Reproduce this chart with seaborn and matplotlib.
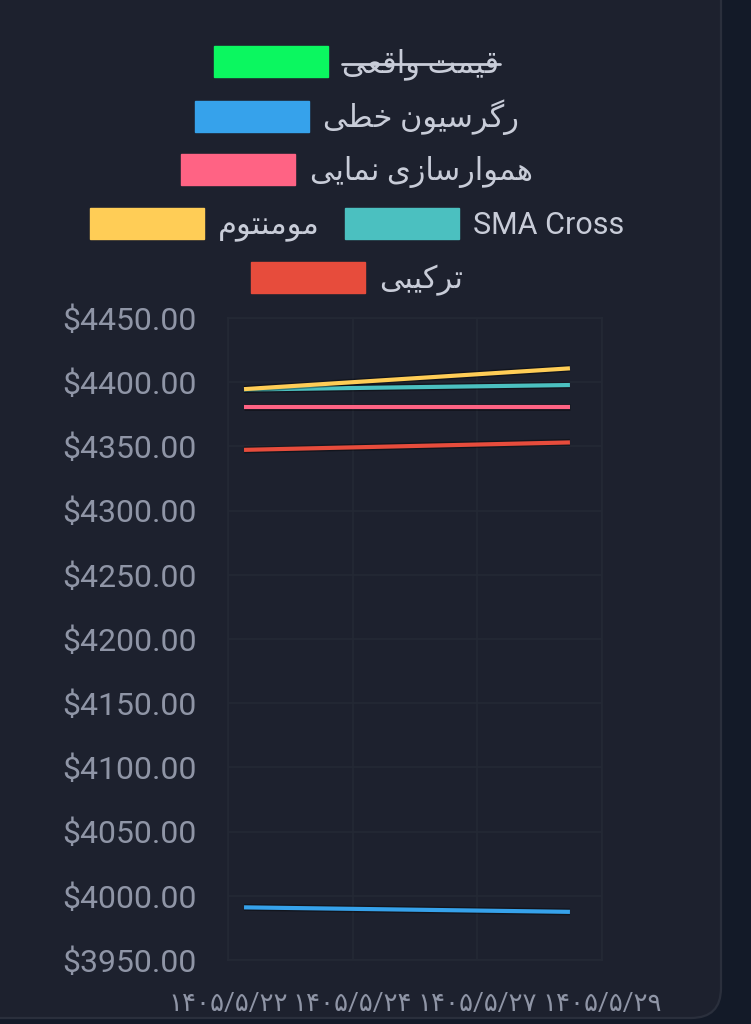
import numpy as np
import pandas as pd
import seaborn as sns
import matplotlib.pyplot as plt
import matplotlib.patheffects as pe
from matplotlib.patches import Patch, FancyBboxPatch
from matplotlib.lines import Line2D

# ---- data ----
days = [22.3, 28.4]  # day of month 5/1405
linear_reg = [3991.0, 3987.5]
exp_smooth = [4380.3, 4380.3]
momentum = [4394.6, 4410.8]
sma_cross = [4394.3, 4397.8]
combined = [4347.3, 4353.1]

names = ["قیمت واقعی", "رگرسیون خطی", "هموارسازی نمایی", "SMA Cross", "مومنتوم", "ترکیبی"]
colors = ["#0bf760", "#36a2eb", "#ff6384", "#4bc0c0", "#ffcd56", "#e74c3c"]
hidden = ["قیمت واقعی"]  # toggled off in the legend

x_labels = ["۱۴۰۵/۵/۲۲", "۱۴۰۵/۵/۲۴", "۱۴۰۵/۵/۲۷", "۱۴۰۵/۵/۲۹"]
y_ticks = list(range(3950, 4451, 50))

# ---- tiny persian shaper (matplotlib has no bidi / joining) ----
FORMS = {
    "ا": ("\uFE8D", "\uFE8E", None, None), "ب": ("\uFE8F", "\uFE90", "\uFE91", "\uFE92"),
    "ت": ("\uFE95", "\uFE96", "\uFE97", "\uFE98"), "خ": ("\uFEA5", "\uFEA6", "\uFEA7", "\uFEA8"),
    "ر": ("\uFEAD", "\uFEAE", None, None), "ز": ("\uFEAF", "\uFEB0", None, None),
    "س": ("\uFEB1", "\uFEB2", "\uFEB3", "\uFEB4"), "ط": ("\uFEC1", "\uFEC2", "\uFEC3", "\uFEC4"),
    "ع": ("\uFEC9", "\uFECA", "\uFECB", "\uFECC"), "ق": ("\uFED5", "\uFED6", "\uFED7", "\uFED8"),
    "م": ("\uFEE1", "\uFEE2", "\uFEE3", "\uFEE4"), "ن": ("\uFEE5", "\uFEE6", "\uFEE7", "\uFEE8"),
    "ه": ("\uFEE9", "\uFEEA", "\uFEEB", "\uFEEC"), "و": ("\uFEED", "\uFEEE", None, None),
    "ی": ("\uFBFC", "\uFBFD", "\uFBFE", "\uFBFF"), "ک": ("\uFB8E", "\uFB8F", "\uFB90", "\uFB91"),
    "گ": ("\uFB92", "\uFB93", "\uFB94", "\uFB95"),
}


def fa(s):
    if not any(c in FORMS for c in s):
        return s
    out = []
    for i, c in enumerate(s):
        if c not in FORMS:
            out.append(c)
            continue
        prev = s[i - 1] if i > 0 else ""
        nxt = s[i + 1] if i + 1 < len(s) else ""
        jp = prev in FORMS and FORMS[prev][2] is not None
        jn = FORMS[c][2] is not None and nxt in FORMS
        iso, fin, ini, med = FORMS[c]
        out.append(med if jp and jn else fin if jp else ini if jn else iso)
    return "".join(out)[::-1]


rows = []
for n, y in zip(names[1:], [linear_reg, exp_smooth, sma_cross, momentum, combined]):
    for d, v in zip(days, y):
        rows.append({"day": d, "price": v, "model": n})
df = pd.DataFrame(rows)

sns.set_style("dark")
plt.rcParams["font.family"] = ["Roboto", "DejaVu Sans"]

bg_out = "#131a28"
card = "#1d212e"
grid_c = "#242935"
tick_c = "#8f95a6"
text_c = "#c8ccd8"

fig = plt.figure(figsize=(7.51, 10.24), dpi=100, facecolor=bg_out)
fig.add_artist(FancyBboxPatch((-0.5, 0.06), 7.71, 11.0,
                              boxstyle="round,pad=0,rounding_size=0.3",
                              transform=fig.dpi_scale_trans,
                              fc=card, ec="#2a2f3c", lw=1.6, zorder=0))

ax = fig.add_axes([228 / 751, 64 / 1024, 374 / 751, 642 / 1024])
ax.set_facecolor("none")
sns.lineplot(data=df, x="day", y="price", hue="model",
             palette=dict(zip(names, colors)), legend=False,
             linewidth=3, ax=ax)
for ln in ax.lines:
    ln.set_path_effects([pe.Stroke(linewidth=5, foreground=(0, 0, 0, 0.35)), pe.Normal()])
    ln.set_solid_capstyle("butt")

ax.set_xlim(22, 29)
ax.set_ylim(3950, 4450)
ax.set_xticks(np.linspace(22, 29, 4))
ax.set_xticklabels(x_labels)
ax.set_yticks(y_ticks)
ax.set_yticklabels([f"${v:.2f}" for v in y_ticks])
ax.set_xlabel("")
ax.set_ylabel("")
ax.grid(True, color=grid_c, lw=1.2)
for sp in ax.spines.values():
    sp.set_color(grid_c)
    sp.set_linewidth(1.2)
ax.tick_params(axis="both", length=21, width=1.2, color=grid_c, labelcolor=tick_c, pad=1.5)
ax.tick_params(axis="y", labelsize=23)
ax.tick_params(axis="x", labelsize=18.8, pad=2)

# ---- legend: centered rows like the web chart ----
legend_rows = [[0], [1], [2], [4, 3], [5]]
row_y = [62.7, 116.7, 170.7, 225, 279]
legs = []
for r, yc in zip(legend_rows, row_y):
    handles = [Patch(facecolor=colors[i], edgecolor=colors[i], lw=1) for i in r]
    labels = [fa(names[i]) for i in r]
    leg = fig.legend(handles, labels, loc="center", bbox_to_anchor=(357 / 751, 1 - yc / 1024),
                     ncol=len(r), frameon=False, fontsize=22, handlelength=3.73,
                     handleheight=1.2, handletextpad=0.46, columnspacing=0.82,
                     labelcolor=text_c, borderpad=0, borderaxespad=0)
    legs.append((leg, r))

fig.canvas.draw()
inv = fig.transFigure.inverted()
for leg, r in legs:
    for t, i in zip(leg.get_texts(), r):
        if names[i] in hidden:
            bb = t.get_window_extent()
            ym = (bb.y0 + bb.y1) / 2
            (x0, y0), (x1, y1) = inv.transform([(bb.x0, ym), (bb.x1, ym)])
            fig.add_artist(Line2D([x0, x1], [y0, y1], transform=fig.transFigure,
                                  color=text_c, lw=2))

fig.savefig("out.png", dpi=100, facecolor=bg_out)
